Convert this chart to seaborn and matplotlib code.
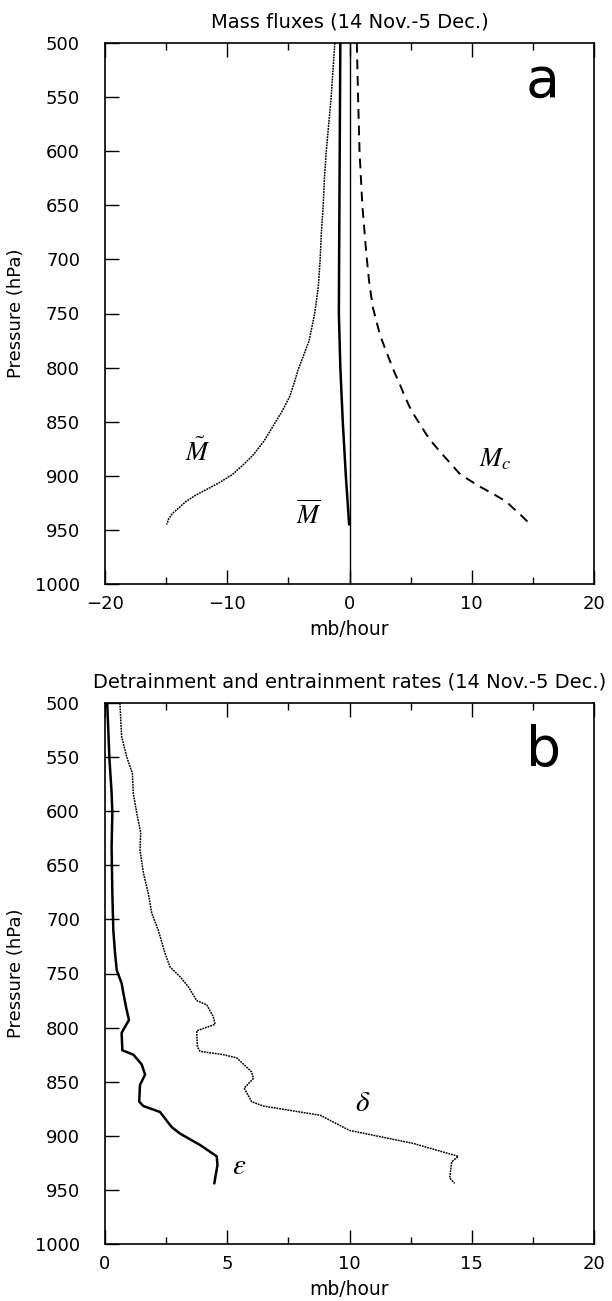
import numpy as np
import pandas as pd
import seaborn as sns
import matplotlib.pyplot as plt
from matplotlib.ticker import MultipleLocator

# ---- panel a: mass fluxes (mb/hour) vs pressure (hPa)
p_mtilde = [500, 525, 550, 575, 600, 625, 650, 675, 700, 725, 750, 775, 790, 802, 815, 827, 840,
            855, 868, 881, 891, 899, 906, 913, 918, 924, 930, 935, 940, 945]
m_tilde = [-1.2, -1.35, -1.5, -1.7, -1.9, -2.05, -2.15, -2.3, -2.4, -2.55, -2.85, -3.3, -3.8, -4.2, -4.55,
           -4.9, -5.5, -6.3, -7.0, -7.9, -8.8, -9.6, -10.6, -11.75, -12.6, -13.4, -14.0, -14.5, -14.8, -14.95]

p_mc = [500, 550, 600, 650, 694, 720, 744, 757, 770, 782, 793, 805, 815, 826, 836, 845, 853, 862,
        870, 877, 884, 891, 898, 904, 910, 917, 924, 930, 935, 940, 945]
m_c = [0.6, 0.7, 0.82, 1.05, 1.37, 1.6, 1.9, 2.2, 2.5, 2.9, 3.28, 3.7, 4.1, 4.5, 4.9, 5.35, 5.8, 6.3,
       6.83, 7.35, 7.9, 8.45, 9.0, 9.8, 10.66, 11.8, 12.84, 13.4, 13.9, 14.35, 14.8]

p_mbar = [500, 600, 700, 750, 800, 850, 900, 925, 945]
m_bar = [-0.75, -0.8, -0.85, -0.87, -0.75, -0.55, -0.3, -0.15, -0.03]

# ---- panel b: detrainment (delta) and entrainment (epsilon) rates
p_delta = [500, 531, 550, 565, 584, 602, 620, 636, 657, 676, 694, 710, 731, 744, 753, 762, 775,
           779, 790, 797, 803, 818, 822, 825, 828, 841, 847, 856, 868.5, 872.5, 881, 895, 907,
           919, 924, 939, 944]
delta = [0.61, 0.68, 0.89, 1.12, 1.16, 1.3, 1.46, 1.43, 1.57, 1.77, 1.91, 2.18, 2.45, 2.66, 3.07, 3.4, 3.75,
         4.16, 4.43, 4.5, 3.75, 3.78, 3.89, 4.84, 5.39, 6.0, 6.07, 5.69, 6.0, 6.47, 8.8, 10.0, 12.6,
         14.45, 14.18, 14.1, 14.3]

p_eps = [500, 551, 583, 602, 633, 676, 710, 731, 747, 759, 768, 781, 793, 802, 805, 821, 825, 834,
         843.5, 853, 868.5, 872.5, 878, 892, 898, 908.5, 919, 927, 944]
eps = [0.09, 0.18, 0.27, 0.3, 0.27, 0.3, 0.34, 0.41, 0.48, 0.68, 0.75, 0.86, 0.98, 0.75, 0.68, 0.71, 1.16, 1.5,
       1.64, 1.43, 1.4, 1.57, 2.25, 2.73, 3.07, 3.89, 4.57, 4.6, 4.47]

sns.set_style("ticks", rc={'text.color': 'black', 'axes.labelcolor': 'black',
                           'xtick.color': 'black', 'ytick.color': 'black',
                           'axes.edgecolor': 'black'})
plt.rcParams['font.family'] = ['DejaVu Sans']
plt.rcParams['mathtext.fontset'] = 'stix'

fig = plt.figure(figsize=(6.12, 13.01), dpi=100)
ax_a = fig.add_axes([105 / 612, 1 - 584 / 1301, 489 / 612, 541 / 1301])
ax_b = fig.add_axes([105 / 612, 1 - 1244 / 1301, 489 / 612, 541 / 1301])

dotted = (0, (1.2, 0.6))

sns.lineplot(x=m_tilde, y=p_mtilde, orient='y', sort=False, estimator=None, ax=ax_a,
             color='black', lw=1.1, linestyle=dotted)
sns.lineplot(x=m_c, y=p_mc, orient='y', sort=False, estimator=None, ax=ax_a,
             color='black', lw=1.4, linestyle=(0, (5, 3.5)))
sns.lineplot(x=m_bar, y=p_mbar, orient='y', sort=False, estimator=None, ax=ax_a,
             color='black', lw=1.8)
ax_a.axvline(0, color='black', lw=1.0)

sns.lineplot(x=delta, y=p_delta, orient='y', sort=False, estimator=None, ax=ax_b,
             color='black', lw=1.1, linestyle=dotted)
sns.lineplot(x=eps, y=p_eps, orient='y', sort=False, estimator=None, ax=ax_b,
             color='black', lw=1.8)

for ax, xlim, major, minor in [(ax_a, (-20, 20), 10, 5), (ax_b, (0, 20), 5, 2.5)]:
    ax.set_xlim(*xlim)
    ax.set_ylim(1000, 500)
    ax.xaxis.set_major_locator(MultipleLocator(major))
    ax.xaxis.set_minor_locator(MultipleLocator(minor))
    ax.yaxis.set_major_locator(MultipleLocator(50))
    ax.tick_params(axis='x', which='major', direction='in', length=10, width=1,
                   top=True, labelsize=13, pad=8)
    ax.tick_params(axis='x', which='minor', direction='in', length=5, width=1, top=True)
    ax.tick_params(axis='y', which='major', direction='in', length=10, width=1,
                   right=False, labelsize=13, pad=18)
    ax.tick_params(axis='y', which='minor', left=False, right=False)
    for s in ax.spines.values():
        s.set_visible(True)
        s.set_linewidth(1.2)
        s.set_color('black')
    ax.set_xlabel("mb/hour", fontsize=13.5, labelpad=5)
    ax.set_ylabel("Pressure (hPa)", fontsize=13, labelpad=7)

ax_a.set_title("Mass fluxes (14 Nov.-5 Dec.)", fontsize=14, pad=11)
ax_b.set_title("Detrainment and entrainment rates (14 Nov.-5 Dec.)", fontsize=14, pad=11)

ax_a.text(15.8, 550, "a", fontsize=40, ha='center', va='baseline')
ax_b.text(17.95, 558, "b", fontsize=40, ha='center', va='baseline')

ax_a.text(-12.4, 879, r"$\tilde{M}$", fontsize=19, ha='center', va='center')
ax_a.text(-3.3, 937, r"$\overline{M}$", fontsize=19, ha='center', va='center')
ax_a.text(11.9, 885, r"$M_c$", fontsize=19, ha='center', va='center')
ax_b.text(10.56, 870, r"$\delta$", fontsize=21, ha='center', va='center')
ax_b.text(5.5, 928, r"$\varepsilon$", fontsize=21, ha='center', va='center')

fig.savefig("out.png", dpi=100)
